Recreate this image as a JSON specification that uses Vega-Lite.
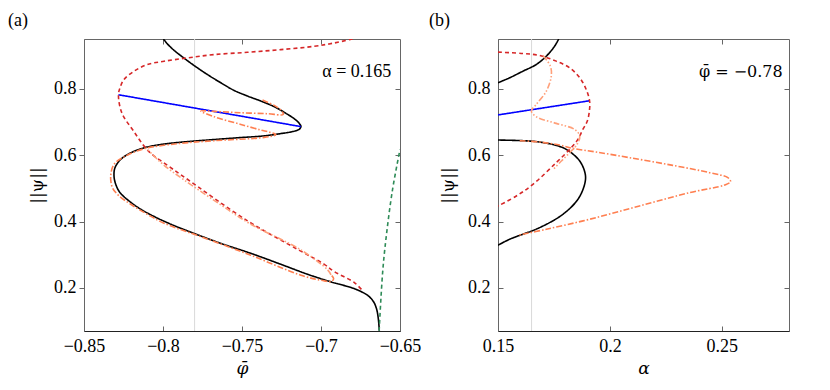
{
  "$schema": "https://vega.github.io/schema/vega-lite/v6.json",
  "padding": {"left": 7, "top": 11, "right": 5, "bottom": 5},
  "spacing": 6,
  "config": {
    "view": {"stroke": "#666", "strokeWidth": 1},
    "axis": {"labelFont": "Liberation Serif", "titleFont": "DejaVu Serif", "labelFontSize": 18, "titleFontSize": 17, "titleFontWeight": "normal", "labelColor": "#000", "titleColor": "#000", "grid": false, "domainColor": "#666", "tickColor": "#666", "labelFlush": false, "labelOverlap": false},
    "title": {"font": "Liberation Serif", "fontSize": 18, "fontWeight": "normal", "color": "#000"}
  },
  "datasets": {
    "a": [
      {"s":"black","i":1,"x":-0.7997,"y":0.950},{"s":"black","i":2,"x":-0.7968,"y":0.933},{"s":"black","i":3,"x":-0.7930,"y":0.916},{"s":"black","i":4,"x":-0.7877,"y":0.896},{"s":"black","i":5,"x":-0.7803,"y":0.870},{"s":"black","i":6,"x":-0.7719,"y":0.843},{"s":"black","i":7,"x":-0.7634,"y":0.818},{"s":"black","i":8,"x":-0.7550,"y":0.795},{"s":"black","i":9,"x":-0.7465,"y":0.778},{"s":"black","i":10,"x":-0.7381,"y":0.763},{"s":"black","i":11,"x":-0.7296,"y":0.746},{"s":"black","i":12,"x":-0.7222,"y":0.726},{"s":"black","i":13,"x":-0.7170,"y":0.710},{"s":"black","i":14,"x":-0.7138,"y":0.696},{"s":"black","i":15,"x":-0.7127,"y":0.686},{"s":"black","i":16,"x":-0.7138,"y":0.678},{"s":"black","i":17,"x":-0.7180,"y":0.671},{"s":"black","i":18,"x":-0.7254,"y":0.665},{"s":"black","i":19,"x":-0.7360,"y":0.658},{"s":"black","i":20,"x":-0.7507,"y":0.653},{"s":"black","i":21,"x":-0.7676,"y":0.647},{"s":"black","i":22,"x":-0.7888,"y":0.639},{"s":"black","i":23,"x":-0.8014,"y":0.632},{"s":"black","i":24,"x":-0.8120,"y":0.622},{"s":"black","i":25,"x":-0.8204,"y":0.607},{"s":"black","i":26,"x":-0.8268,"y":0.587},{"s":"black","i":27,"x":-0.8304,"y":0.562},{"s":"black","i":28,"x":-0.8310,"y":0.537},{"s":"black","i":29,"x":-0.8299,"y":0.512},{"s":"black","i":30,"x":-0.8272,"y":0.487},{"s":"black","i":31,"x":-0.8215,"y":0.462},{"s":"black","i":32,"x":-0.8141,"y":0.437},{"s":"black","i":33,"x":-0.8056,"y":0.415},{"s":"black","i":34,"x":-0.7951,"y":0.392},{"s":"black","i":35,"x":-0.7803,"y":0.364},{"s":"black","i":36,"x":-0.7634,"y":0.334},{"s":"black","i":37,"x":-0.7444,"y":0.304},{"s":"black","i":38,"x":-0.7254,"y":0.271},{"s":"black","i":39,"x":-0.7085,"y":0.241},{"s":"black","i":40,"x":-0.6937,"y":0.218},{"s":"black","i":41,"x":-0.6810,"y":0.201},{"s":"black","i":42,"x":-0.6747,"y":0.189},{"s":"black","i":43,"x":-0.6701,"y":0.176},{"s":"black","i":44,"x":-0.6667,"y":0.158},{"s":"black","i":45,"x":-0.6648,"y":0.136},{"s":"black","i":46,"x":-0.6637,"y":0.106},{"s":"black","i":47,"x":-0.6631,"y":0.071},
      {"s":"blue","i":1,"x":-0.8282,"y":0.782},{"s":"blue","i":2,"x":-0.7127,"y":0.686},
      {"s":"red","i":1,"x":-0.680,"y":0.950},{"s":"red","i":2,"x":-0.6916,"y":0.938},{"s":"red","i":3,"x":-0.7043,"y":0.928},{"s":"red","i":4,"x":-0.7254,"y":0.918},{"s":"red","i":5,"x":-0.7465,"y":0.910},{"s":"red","i":6,"x":-0.7676,"y":0.903},{"s":"red","i":7,"x":-0.7845,"y":0.893},{"s":"red","i":8,"x":-0.7993,"y":0.883},{"s":"red","i":9,"x":-0.8099,"y":0.873},{"s":"red","i":10,"x":-0.8183,"y":0.853},{"s":"red","i":11,"x":-0.8247,"y":0.828},{"s":"red","i":12,"x":-0.8272,"y":0.803},{"s":"red","i":13,"x":-0.8282,"y":0.782},{"s":"red","i":14,"x":-0.8261,"y":0.728},{"s":"red","i":15,"x":-0.8187,"y":0.673},{"s":"red","i":16,"x":-0.8092,"y":0.612},{"s":"red","i":17,"x":-0.7965,"y":0.567},{"s":"red","i":18,"x":-0.786,"y":0.532},{"s":"red","i":19,"x":-0.7465,"y":0.402},{"s":"red","i":20,"x":-0.7148,"y":0.316},{"s":"red","i":21,"x":-0.6979,"y":0.271},{"s":"red","i":22,"x":-0.6916,"y":0.249},{"s":"red","i":23,"x":-0.6789,"y":0.216},{"s":"red","i":24,"x":-0.6736,"y":0.191},
      {"s":"o1","i":1,"x":-0.7370,"y":0.7659},{"s":"o1","i":2,"x":-0.7296,"y":0.7498},{"s":"o1","i":3,"x":-0.7254,"y":0.7358},{"s":"o1","i":4,"x":-0.7239,"y":0.7227},{"s":"o1","i":5,"x":-0.7338,"y":0.7248},{"s":"o1","i":6,"x":-0.7507,"y":0.7278},{"s":"o1","i":7,"x":-0.7676,"y":0.7318},{"s":"o1","i":8,"x":-0.7761,"y":0.7328},{"s":"o1","i":9,"x":-0.7676,"y":0.7157},{"s":"o1","i":10,"x":-0.7507,"y":0.6926},{"s":"o1","i":11,"x":-0.7381,"y":0.6756},{"s":"o1","i":12,"x":-0.7328,"y":0.6696},{"s":"o1","i":13,"x":-0.7286,"y":0.6615},{"s":"o1","i":14,"x":-0.7360,"y":0.6535},{"s":"o1","i":15,"x":-0.7676,"y":0.6435},{"s":"o1","i":16,"x":-0.7888,"y":0.6355},{"s":"o1","i":17,"x":-0.8120,"y":0.6194},{"s":"o1","i":18,"x":-0.8236,"y":0.5973},{"s":"o1","i":19,"x":-0.8310,"y":0.5722},{"s":"o1","i":20,"x":-0.8331,"y":0.5371},{"s":"o1","i":21,"x":-0.8320,"y":0.5020},{"s":"o1","i":22,"x":-0.8282,"y":0.4789},{"s":"o1","i":23,"x":-0.8204,"y":0.4519},{"s":"o1","i":24,"x":-0.8099,"y":0.4217},{"s":"o1","i":25,"x":-0.7993,"y":0.3947},{"s":"o1","i":26,"x":-0.7761,"y":0.3545},{"s":"o1","i":27,"x":-0.7444,"y":0.2983},{"s":"o1","i":28,"x":-0.7127,"y":0.2381},{"s":"o1","i":29,"x":-0.6979,"y":0.2211},{"s":"o1","i":30,"x":-0.6933,"y":0.2191},{"s":"o1","i":31,"x":-0.6920,"y":0.2281},{"s":"o1","i":32,"x":-0.6937,"y":0.2392},
      {"s":"o2","i":1,"x":-0.6937,"y":0.2392},{"s":"o2","i":2,"x":-0.6958,"y":0.2542},{"s":"o2","i":3,"x":-0.7127,"y":0.3144},{"s":"o2","i":4,"x":-0.7444,"y":0.3917},{"s":"o2","i":5,"x":-0.7655,"y":0.4569},{"s":"o2","i":6,"x":-0.7866,"y":0.5251},{"s":"o2","i":7,"x":-0.7993,"y":0.5692},{"s":"o2","i":8,"x":-0.8067,"y":0.6023},{"s":"o2","i":9,"x":-0.8109,"y":0.6224},
      {"s":"green","i":1,"x":-0.6632,"y":0.071},{"s":"green","i":2,"x":-0.6610,"y":0.246},{"s":"green","i":3,"x":-0.6589,"y":0.347},{"s":"green","i":4,"x":-0.6547,"y":0.497},{"s":"green","i":5,"x":-0.6500,"y":0.617}
    ],
    "b": [
      {"s":"black","i":1,"x":0.15,"y":0.8181},{"s":"black","i":2,"x":0.1552,"y":0.8331},{"s":"black","i":3,"x":0.1612,"y":0.8532},{"s":"black","i":4,"x":0.1671,"y":0.8732},{"s":"black","i":5,"x":0.1716,"y":0.8983},{"s":"black","i":6,"x":0.1753,"y":0.9284},{"s":"black","i":7,"x":0.1771,"y":0.950},
      {"s":"black2","i":1,"x":0.15,"y":0.6455},{"s":"black2","i":2,"x":0.1612,"y":0.6435},{"s":"black2","i":3,"x":0.1686,"y":0.6395},{"s":"black2","i":4,"x":0.1760,"y":0.6294},{"s":"black2","i":5,"x":0.1805,"y":0.6174},{"s":"black2","i":6,"x":0.1865,"y":0.5823},{"s":"black2","i":7,"x":0.1890,"y":0.5421},{"s":"black2","i":8,"x":0.1887,"y":0.5121},{"s":"black2","i":9,"x":0.1857,"y":0.4669},{"s":"black2","i":10,"x":0.1790,"y":0.4218},{"s":"black2","i":11,"x":0.1686,"y":0.3816},{"s":"black2","i":12,"x":0.1552,"y":0.3465},{"s":"black2","i":13,"x":0.15,"y":0.3285},
      {"s":"blue","i":1,"x":0.15,"y":0.7212},{"s":"blue","i":2,"x":0.1909,"y":0.7639},
      {"s":"red","i":1,"x":0.15,"y":0.9104},{"s":"red","i":2,"x":0.1612,"y":0.9064},{"s":"red","i":3,"x":0.1686,"y":0.9003},{"s":"red","i":4,"x":0.1760,"y":0.8833},{"s":"red","i":5,"x":0.1820,"y":0.8632},{"s":"red","i":6,"x":0.1865,"y":0.8331},{"s":"red","i":7,"x":0.1894,"y":0.7980},{"s":"red","i":8,"x":0.1909,"y":0.7639},{"s":"red","i":9,"x":0.1909,"y":0.7378},{"s":"red","i":10,"x":0.1899,"y":0.7027},{"s":"red","i":11,"x":0.1879,"y":0.6776},{"s":"red","i":12,"x":0.1857,"y":0.6475},{"s":"red","i":13,"x":0.1827,"y":0.6224},{"s":"red","i":14,"x":0.1760,"y":0.5773},{"s":"red","i":15,"x":0.1656,"y":0.5120},{"s":"red","i":16,"x":0.1582,"y":0.4769},{"s":"red","i":17,"x":0.15,"y":0.4468},
      {"s":"o1","i":1,"x":0.1597,"y":0.6435},{"s":"o1","i":2,"x":0.1686,"y":0.6395},{"s":"o1","i":3,"x":0.1775,"y":0.6304},{"s":"o1","i":4,"x":0.1835,"y":0.6204},{"s":"o1","i":5,"x":0.1939,"y":0.6094},{"s":"o1","i":6,"x":0.2088,"y":0.5923},{"s":"o1","i":7,"x":0.2281,"y":0.5692},{"s":"o1","i":8,"x":0.2445,"y":0.5472},{"s":"o1","i":9,"x":0.2527,"y":0.5321},{"s":"o1","i":10,"x":0.2539,"y":0.5201},{"s":"o1","i":11,"x":0.2512,"y":0.5100},{"s":"o1","i":12,"x":0.2356,"y":0.4870},{"s":"o1","i":13,"x":0.2132,"y":0.4468},{"s":"o1","i":14,"x":0.1909,"y":0.4067},{"s":"o1","i":15,"x":0.1716,"y":0.3766},{"s":"o1","i":16,"x":0.1589,"y":0.3585},
      {"s":"o2","i":1,"x":0.1701,"y":0.9003},{"s":"o2","i":2,"x":0.1734,"y":0.8682},{"s":"o2","i":3,"x":0.1738,"y":0.8381},{"s":"o2","i":4,"x":0.1716,"y":0.7930},{"s":"o2","i":5,"x":0.1671,"y":0.7528},{"s":"o2","i":6,"x":0.1649,"y":0.7328},{"s":"o2","i":7,"x":0.1671,"y":0.7157},{"s":"o2","i":8,"x":0.1760,"y":0.6957},{"s":"o2","i":9,"x":0.1842,"y":0.6776},{"s":"o2","i":10,"x":0.1865,"y":0.6575},{"s":"o2","i":11,"x":0.1853,"y":0.6324},{"s":"o2","i":12,"x":0.1820,"y":0.6074},{"s":"o2","i":13,"x":0.1783,"y":0.5823},{"s":"o2","i":14,"x":0.1750,"y":0.5592}
    ]
  },
  "hconcat": [
    {
      "width": 316, "height": 292,
      "title": {"text": "(a)", "anchor": "start", "frame": "group", "dx": -76, "offset": 9},
      "layer": [
        {"layer": [
          {"data": {"values": [{"x": -0.78}]}, "mark": {"type": "rule", "color": "#d9d9d9", "strokeWidth": 1},
           "encoding": {"x": {"field": "x", "type": "quantitative", "scale": {"domain": [-0.85, -0.65], "nice": false, "zero": false}}}},
          {"data": {"name": "a"}, "mark": {"type": "line", "clip": true, "interpolate": "catmull-rom"},
           "encoding": {
             "x": {"field": "x", "type": "quantitative", "scale": {"domain": [-0.85, -0.65], "nice": false, "zero": false},
                   "axis": {"values": [-0.85, -0.8, -0.75, -0.7, -0.65], "format": "~g", "tickSize": -5, "labelPadding": 11, "title": "φ̄", "titleFontStyle": "italic", "titlePadding": 5, "domainColor": "#222"}},
             "y": {"field": "y", "type": "quantitative", "scale": {"domain": [0.07, 0.95], "nice": false, "zero": false},
                   "axis": {"values": [0.2, 0.4, 0.6, 0.8], "format": "~g", "tickSize": 5, "labelPadding": 3, "title": "||ψ||", "titlePadding": 7}},
             "color": {"field": "s", "type": "nominal", "legend": null, "scale": {"domain": ["black", "black2", "blue", "red", "o1", "o2", "green"], "range": ["#000000", "#000000", "#0000ff", "#d62728", "#ff7f50", "#ffa07a", "#2e8b57"]}},
             "strokeDash": {"field": "s", "type": "nominal", "legend": null, "scale": {"domain": ["black", "black2", "blue", "red", "o1", "o2", "green"], "range": [[1, 0], [1, 0], [1, 0], [4, 3], [6, 2, 1.5, 2], [6, 2, 1.5, 2, 1.5, 2], [4, 3]]}},
             "strokeWidth": {"field": "s", "type": "ordinal", "legend": null, "scale": {"domain": ["black", "black2", "blue", "red", "o1", "o2", "green"], "range": [1.6, 1.6, 1.5, 1.5, 1.2, 1.2, 1.3]}},
             "order": {"field": "i", "type": "quantitative"}
           }},
          {"data": {"values": [{"x": -0.6555, "y": 0.85, "t": "α = 0.165"}]},
           "mark": {"type": "text", "align": "right", "baseline": "middle", "font": "Liberation Serif", "fontSize": 18, "color": "#000"},
           "encoding": {"x": {"field": "x", "type": "quantitative", "scale": {"domain": [-0.85, -0.65], "nice": false, "zero": false}}, "y": {"field": "y", "type": "quantitative", "scale": {"domain": [0.07, 0.95], "nice": false, "zero": false}}, "text": {"field": "t", "type": "nominal"}}}
        ]},
        {"data": {"values": [{"x": -0.78, "y": 0.5}]}, "mark": {"type": "point", "opacity": 0},
         "encoding": {
           "x": {"field": "x", "type": "quantitative", "scale": {"domain": [-0.85, -0.65], "nice": false, "zero": false}, "axis": {"orient": "top", "labels": false, "domain": false, "tickSize": -5, "values": [-0.8, -0.75, -0.7], "title": null}},
           "y": {"field": "y", "type": "quantitative", "scale": {"domain": [0.07, 0.95], "nice": false, "zero": false}, "axis": {"orient": "right", "labels": false, "domain": false, "tickSize": -5, "values": [0.2, 0.4, 0.6, 0.8], "title": null}}
         }}
      ],
      "resolve": {"axis": {"x": "independent", "y": "independent"}}
    },
    {
      "width": 291, "height": 292,
      "title": {"text": "(b)", "anchor": "start", "frame": "group", "dx": -69, "offset": 9},
      "layer": [
        {"layer": [
          {"data": {"values": [{"x": 0.165}]}, "mark": {"type": "rule", "color": "#d9d9d9", "strokeWidth": 1},
           "encoding": {"x": {"field": "x", "type": "quantitative", "scale": {"domain": [0.15, 0.28], "nice": false, "zero": false}}}},
          {"data": {"name": "b"}, "mark": {"type": "line", "clip": true, "interpolate": "catmull-rom"},
           "encoding": {
             "x": {"field": "x", "type": "quantitative", "scale": {"domain": [0.15, 0.28], "nice": false, "zero": false},
                   "axis": {"values": [0.15, 0.2, 0.25], "format": "~g", "tickSize": -5, "labelPadding": 11, "title": "α", "titleFontStyle": "italic", "titlePadding": 5, "domainColor": "#222"}},
             "y": {"field": "y", "type": "quantitative", "scale": {"domain": [0.07, 0.95], "nice": false, "zero": false},
                   "axis": {"values": [0.2, 0.4, 0.6, 0.8], "format": "~g", "tickSize": -5, "labelPadding": 13, "title": "||ψ||", "titlePadding": 10}},
             "color": {"field": "s", "type": "nominal", "legend": null, "scale": {"domain": ["black", "black2", "blue", "red", "o1", "o2", "green"], "range": ["#000000", "#000000", "#0000ff", "#d62728", "#ff7f50", "#ffa07a", "#2e8b57"]}},
             "strokeDash": {"field": "s", "type": "nominal", "legend": null, "scale": {"domain": ["black", "black2", "blue", "red", "o1", "o2", "green"], "range": [[1, 0], [1, 0], [1, 0], [4, 3], [6, 2, 1.5, 2, 1.5, 2], [6, 2, 1.5, 2, 1.5, 2], [4, 3]]}},
             "strokeWidth": {"field": "s", "type": "ordinal", "legend": null, "scale": {"domain": ["black", "black2", "blue", "red", "o1", "o2", "green"], "range": [1.6, 1.6, 1.5, 1.5, 1.2, 1.2, 1.3]}},
             "order": {"field": "i", "type": "quantitative"}
           }},
          {"data": {"values": [{"x": 0.2772, "y": 0.85, "t": "φ̄ = −0.78"}]},
           "mark": {"type": "text", "align": "right", "baseline": "middle", "font": "DejaVu Serif", "fontSize": 16, "color": "#000"},
           "encoding": {"x": {"field": "x", "type": "quantitative", "scale": {"domain": [0.15, 0.28], "nice": false, "zero": false}}, "y": {"field": "y", "type": "quantitative", "scale": {"domain": [0.07, 0.95], "nice": false, "zero": false}}, "text": {"field": "t", "type": "nominal"}}}
        ]},
        {"data": {"values": [{"x": 0.2, "y": 0.5}]}, "mark": {"type": "point", "opacity": 0},
         "encoding": {
           "x": {"field": "x", "type": "quantitative", "scale": {"domain": [0.15, 0.28], "nice": false, "zero": false}, "axis": {"orient": "top", "labels": false, "domain": false, "tickSize": -5, "values": [0.2, 0.25], "title": null}},
           "y": {"field": "y", "type": "quantitative", "scale": {"domain": [0.07, 0.95], "nice": false, "zero": false}, "axis": {"orient": "right", "labels": false, "domain": false, "tickSize": -5, "values": [0.2, 0.4, 0.6, 0.8], "title": null}}
         }}
      ],
      "resolve": {"axis": {"x": "independent", "y": "independent"}}
    }
  ]
}
